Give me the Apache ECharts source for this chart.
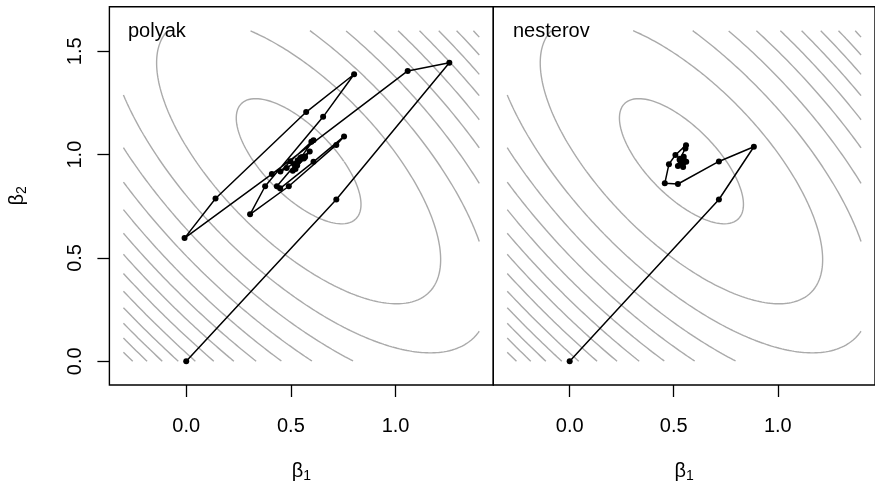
<!DOCTYPE html>
<html>
<head>
<meta charset="utf-8">
<script src="https://cdn.jsdelivr.net/npm/echarts@6/dist/echarts.min.js"></script>
<style>
html,body{margin:0;padding:0;background:#fff;}
#c{width:875px;height:488px;}
</style>
</head>
<body>
<div id="c"></div>
<script>
// ---- data ----
const panelNames = ['polyak', 'nesterov'];
const xTicks = [0, 0.5, 1.0];
const yTicks = [0, 0.5, 1.0, 1.5];

// polyak (heavy ball) path
const polyakX = [0, 0.717, 1.257, 1.058, 0.409, -0.008, 0.140, 0.573, 0.802, 0.654, 0.377, 0.305, 0.490, 0.717, 0.754, 0.608, 0.449, 0.433, 0.533, 0.608, 0.598, 0.498, 0.450, 0.480, 0.553, 0.590, 0.568, 0.522, 0.509, 0.530, 0.562, 0.566, 0.543, 0.518, 0.516, 0.532, 0.546, 0.545, 0.534];
const polyakY = [0, 0.783, 1.445, 1.405, 0.906, 0.596, 0.788, 1.206, 1.389, 1.183, 0.847, 0.711, 0.847, 1.047, 1.088, 0.965, 0.837, 0.847, 0.965, 1.070, 1.062, 0.968, 0.918, 0.935, 0.988, 1.015, 0.989, 0.930, 0.922, 0.947, 0.981, 0.991, 0.974, 0.954, 0.954, 0.971, 0.985, 0.982, 0.968];

// nesterov path
const nesterovX = [0, 0.717, 0.885, 0.717, 0.520, 0.457, 0.477, 0.508, 0.559, 0.556, 0.530, 0.520, 0.545, 0.560, 0.548, 0.528, 0.532, 0.545, 0.548, 0.538, 0.535, 0.540];
const nesterovY = [0, 0.783, 1.038, 0.967, 0.858, 0.861, 0.954, 0.998, 1.046, 1.030, 0.980, 0.945, 0.940, 0.965, 0.990, 0.975, 0.955, 0.958, 0.975, 0.975, 0.965, 0.966];

// contoured function: f(b) = fMin + (b - centre)' H (b - centre)
const centre = [0.537, 0.968];
const hess = [[5.139, 3.488], [3.488, 4.971]];
const fMin = 0.761;
const levels = [1, 2, 3, 4, 5, 6, 7, 8, 9, 10, 11, 12, 13, 14];
const contourXRange = [-0.3, 1.4];
const contourYRange = [0, 1.6];

// ---- contour geometry (level sets of the quadratic, clipped to the evaluation box) ----
function ellipseLines(level) {
  const c = level - fMin;
  if (c <= 0) return [];
  const l11 = Math.sqrt(hess[0][0]);
  const l21 = hess[0][1] / l11;
  const l22 = Math.sqrt(hess[1][1] - l21 * l21);
  const n = 1600, pts = [];
  for (let i = 0; i < n; i++) {
    const t = 2 * Math.PI * i / n;
    const w1 = Math.sqrt(c) * Math.cos(t), w2 = Math.sqrt(c) * Math.sin(t);
    const d2 = w2 / l22, d1 = (w1 - l21 * d2) / l11;
    pts.push([centre[0] + d1, centre[1] + d2]);
  }
  const [x0, x1] = contourXRange, [y0, y1] = contourYRange;
  const inside = p => p[0] >= x0 && p[0] <= x1 && p[1] >= y0 && p[1] <= y1;
  let k = pts.findIndex(p => !inside(p));
  if (k < 0) { pts.push(pts[0]); return [pts]; }
  function clip(p, q) {
    const dx = q[0] - p[0], dy = q[1] - p[1];
    const P = [-dx, dx, -dy, dy], Q = [p[0] - x0, x1 - p[0], p[1] - y0, y1 - p[1]];
    let t0 = 0, t1 = 1;
    for (let i = 0; i < 4; i++) {
      if (P[i] === 0) { if (Q[i] < 0) return null; }
      else {
        const r = Q[i] / P[i];
        if (P[i] < 0) { if (r > t1) return null; if (r > t0) t0 = r; }
        else { if (r < t0) return null; if (r < t1) t1 = r; }
      }
    }
    return [t0, t1];
  }
  const out = []; let cur = null;
  for (let j = 0; j < n; j++) {
    const p = pts[(k + j) % n], q = pts[(k + j + 1) % n];
    const r = clip(p, q);
    if (!r) { if (cur) { out.push(cur); cur = null; } continue; }
    const a = [p[0] + r[0] * (q[0] - p[0]), p[1] + r[0] * (q[1] - p[1])];
    const b = [p[0] + r[1] * (q[0] - p[0]), p[1] + r[1] * (q[1] - p[1])];
    if (!cur || r[0] > 0) { if (cur) out.push(cur); cur = [a]; }
    cur.push(b);
    if (r[1] < 1) { out.push(cur); cur = null; }
  }
  if (cur) out.push(cur);
  return out.filter(l => l.length > 1);
}

const contourLines = [];
levels.forEach(L => ellipseLines(L).forEach(l => contourLines.push(l)));

// ---- chart ----
const FONT = 'Liberation Sans, Arial, Helvetica, sans-serif';
const XMIN = -0.367, XMAX = 1.467, YMIN = -0.115, YMAX = 1.716;
const gridTop = 6.7, gridH = 382.3, gridW = 383.9;

const chart = echarts.init(document.getElementById('c'), null, { renderer: 'canvas' });

const series = [];
[0, 1].forEach(pi => {
  contourLines.forEach(line => {
    series.push({
      type: 'line', xAxisIndex: pi, yAxisIndex: pi, data: line,
      showSymbol: false, symbol: 'none', silent: true, animation: false,
      lineStyle: { color: '#aaaaaa', width: 1.4 }, z: 1, clip: true
    });
  });
  const xs = pi === 0 ? polyakX : nesterovX;
  const ys = pi === 0 ? polyakY : nesterovY;
  series.push({
    type: 'line', xAxisIndex: pi, yAxisIndex: pi,
    data: xs.map((x, i) => [x, ys[i]]),
    symbol: 'circle', symbolSize: 6, showAllSymbol: true, animation: false,
    lineStyle: { color: '#000', width: 1.5 }, itemStyle: { color: '#000' }, z: 5, clip: true
  });
});

const betaRich = {
  b: { fontSize: 20, fontFamily: FONT, color: '#000', lineHeight: 24 },
  s: { fontSize: 14, fontFamily: FONT, color: '#000', lineHeight: 14, verticalAlign: 'bottom' }
};

function xAxis(idx) {
  return {
    type: 'value', gridIndex: idx, min: XMIN, max: XMAX, position: 'bottom',
    name: '{b|β}{s|1}', nameLocation: 'middle', nameGap: 74,
    nameTextStyle: { rich: betaRich },
    axisLine: { show: false, onZero: false },
    splitLine: { show: false },
    axisTick: { show: true, customValues: xTicks, length: 12, inside: false, lineStyle: { color: '#000', width: 1.3 } },
    axisLabel: { show: true, customValues: xTicks, formatter: v => v.toFixed(1), fontSize: 20, fontFamily: FONT, color: '#000', margin: 31 }
  };
}
function yAxis(idx) {
  const show = idx === 0;
  return {
    type: 'value', gridIndex: idx, min: YMIN, max: YMAX, position: 'left',
    name: show ? '{b|β}{s|2}' : '', nameLocation: 'middle', nameGap: 80, nameRotate: 90,
    nameTextStyle: { rich: betaRich },
    axisLine: { show: false, onZero: false },
    splitLine: { show: false },
    axisTick: { show: show, customValues: yTicks, length: 12, inside: false, lineStyle: { color: '#000', width: 1.3 } },
    axisLabel: { show: show, customValues: yTicks, formatter: v => v.toFixed(1), fontSize: 20, fontFamily: FONT, color: '#000', margin: 24, rotate: 90 }
  };
}

chart.setOption({
  backgroundColor: '#fff',
  animation: false,
  grid: [
    { left: 109.4, top: gridTop, width: gridW, height: gridH, show: true, borderColor: '#000', borderWidth: 1.4, backgroundColor: 'transparent' },
    { left: 493.3, top: gridTop, width: gridW, height: gridH, show: true, borderColor: '#000', borderWidth: 1.4, backgroundColor: 'transparent' }
  ],
  xAxis: [xAxis(0), xAxis(1)],
  yAxis: [yAxis(0), yAxis(1)],
  graphic: [
    { type: 'text', left: 128, top: 21, z: 10, style: { text: panelNames[0], font: '20px ' + FONT, fill: '#000' } },
    { type: 'text', left: 513, top: 21, z: 10, style: { text: panelNames[1], font: '20px ' + FONT, fill: '#000' } }
  ],
  series: series
});
</script>
</body>
</html>
